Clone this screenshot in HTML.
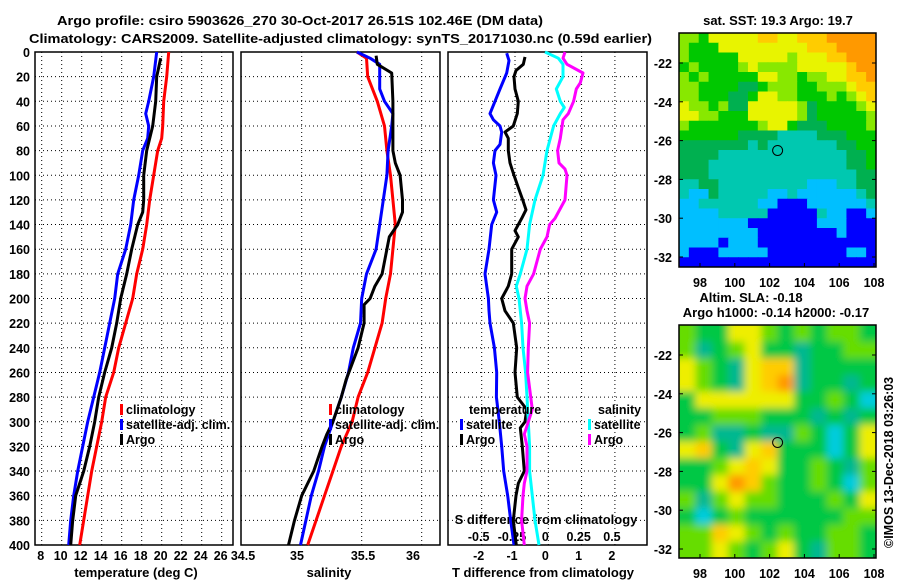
<!DOCTYPE html>
<html><head><meta charset="utf-8"><style>
html,body{margin:0;padding:0;background:#fff;}
svg{display:block;font-family:"Liberation Sans",Arial,sans-serif;}
.t{font-weight:bold;font-size:13px;fill:#000;}
.tk{font-weight:bold;font-size:12.5px;fill:#000;}
</style></head><body>
<svg id="c" width="900" height="580" viewBox="0 0 900 580" xmlns="http://www.w3.org/2000/svg">
<defs>
<clipPath id="clipTop"><rect x="679" y="33" width="197" height="234"/></clipPath>
<clipPath id="clipBot"><rect x="679" y="325" width="197" height="233"/></clipPath>
<filter id="blur" x="-10%" y="-10%" width="120%" height="120%"><feGaussianBlur stdDeviation="4"/></filter>
</defs>
<text class="t" x="57" y="25" textLength="486" lengthAdjust="spacingAndGlyphs">Argo profile: csiro 5903626_270 30-Oct-2017 26.51S 102.46E (DM data)</text>
<text class="t" x="29" y="43" textLength="623" lengthAdjust="spacingAndGlyphs">Climatology: CARS2009. Satellite-adjusted climatology: synTS_20171030.nc (0.59d earlier)</text>
<text class="t" x="778" y="25" text-anchor="middle">sat. SST: 19.3 Argo: 19.7</text>
<text class="t" x="751" y="302" text-anchor="middle">Altim. SLA: -0.18</text>
<text class="t" x="776" y="317" text-anchor="middle">Argo h1000: -0.14 h2000: -0.17</text>
<text class="tk" transform="translate(893,548) rotate(-90)">©IMOS 13-Dec-2018 03:26:03</text>
<g id="g"></g>
</svg>
<script>
// depth grid
const depthTicks=[0,20,40,60,80,100,120,140,160,180,200,220,240,260,280,300,320,340,360,380,400];
// temperature panel
const tTicks=[8,10,12,14,16,18,20,22,24,26];
const tClimD=[0,20,40,60,70,80,100,120,140,160,180,200,220,240,260,280,300,320,340,360,380,400];
const tClimV=[20.7,20.5,20.2,20.1,20.0,19.6,19.2,18.8,18.5,18.1,17.5,17.1,16.4,15.7,15.2,14.4,14.0,13.5,13.0,12.6,12.2,11.8];
const tSatD=[0,20,40,50,60,70,80,100,120,140,160,180,200,220,240,260,280,300,320,340,360,380,400];
const tSatV=[19.5,19.2,18.7,18.4,18.7,18.6,18.1,17.7,17.2,16.9,16.4,15.6,15.3,14.8,14.3,13.8,13.2,12.6,12.1,11.6,11.2,10.9,10.7];
const tArgD=[5,20,40,60,80,100,120,130,140,160,180,200,220,240,260,280,300,320,340,360,380,400];
const tArgV=[19.9,19.5,19.4,19.1,18.5,18.2,18.2,18.1,17.6,17.0,16.5,15.9,15.5,15.0,14.3,13.7,13.3,12.8,12.2,11.4,11.1,10.9];
// salinity panel
const sTicks=[34.5,35,35.5,36];
const sClimD=[0,5,20,40,60,80,100,120,140,160,180,200,220,240,260,280,300,320,340,360,380,400];
const sClimV=[35.46,35.54,35.55,35.63,35.69,35.71,35.74,35.76,35.78,35.76,35.74,35.70,35.67,35.61,35.55,35.47,35.42,35.33,35.26,35.19,35.12,35.05];
const sSatD=[0,5,10,30,40,50,60,80,100,120,140,160,180,200,220,240,260,280,300,320,340,360,400];
const sSatV=[35.46,35.57,35.65,35.65,35.69,35.76,35.75,35.72,35.71,35.68,35.65,35.62,35.54,35.50,35.49,35.43,35.39,35.33,35.26,35.19,35.14,35.08,34.99];
const sArgD=[3,10,17,40,80,90,100,120,130,140,150,160,180,190,200,205,220,240,266,280,300,310,320,340,350,360,380,400];
const sArgV=[35.62,35.63,35.75,35.76,35.76,35.78,35.82,35.84,35.84,35.80,35.73,35.71,35.67,35.61,35.57,35.52,35.52,35.47,35.37,35.33,35.26,35.21,35.17,35.10,35.05,35.00,34.94,34.89];
// difference panel
const dtTicks=[-2,-1,0,1,2];
const dsTicks=[-0.5,-0.25,0,0.25,0.5];
const dTSatD=[1,7,17,30,40,50,55,60,65,75,80,90,100,120,130,140,160,180,200,210,220,240,260,280,300,320,340,360,380,400];
const dTSatV=[-1.25,-1.18,-1.25,-1.45,-1.6,-1.75,-1.65,-1.45,-1.4,-1.45,-1.6,-1.65,-1.57,-1.65,-1.55,-1.7,-1.78,-1.9,-1.8,-1.78,-1.75,-1.62,-1.55,-1.56,-1.47,-1.4,-1.34,-1.22,-1.13,-1.03];
const dTArgD=[4,10,15,20,30,40,50,60,65,70,80,90,100,110,120,128,135,140,145,150,160,180,190,200,210,220,240,260,280,290,300,305,320,340,350,360,380,400];
const dTArgV=[-0.7,-0.75,-0.97,-1.03,-1.0,-0.9,-0.93,-1.05,-1.3,-1.2,-1.2,-1.15,-1.03,-0.9,-0.77,-0.67,-0.8,-0.9,-1.0,-0.9,-1.1,-1.1,-1.2,-1.4,-1.3,-1.05,-0.95,-1.0,-0.93,-0.65,-0.7,-0.84,-0.78,-0.72,-0.9,-0.97,-1.05,-0.96];
const dSSatD=[0,5,10,20,30,40,45,50,60,80,100,120,140,160,180,190,200,220,240,260,280,300,320,340,360,380,400];
const dSSatV=[-0.025,0.075,0.11,0.11,0.06,0.09,0.12,0.09,0.04,-0.01,-0.04,-0.1,-0.14,-0.16,-0.21,-0.24,-0.22,-0.2,-0.19,-0.17,-0.16,-0.15,-0.14,-0.14,-0.12,-0.1,-0.07];
const dSArgD=[0,5,10,17,25,30,40,50,55,70,80,90,95,100,120,135,140,150,160,180,190,200,210,220,240,260,290,300,310,320,340,350,360,380,400];
const dSArgV=[0.125,0.11,0.14,0.26,0.24,0.21,0.19,0.15,0.11,0.09,0.07,0.08,0.125,0.14,0.125,0.05,0.01,-0.01,-0.06,-0.11,-0.16,-0.175,-0.16,-0.14,-0.15,-0.155,-0.12,-0.15,-0.18,-0.16,-0.16,-0.18,-0.19,-0.2,-0.18];
// maps
const lonTicks=[98,100,102,104,106,108];
const latTicks=[-22,-24,-26,-28,-30,-32];
const argoLon=102.46, argoLat=-26.51;
const sstPalette=["#0000ff","#00bfff","#00c8b0","#00b050","#00c800","#88e800","#e8f400","#ffcc00","#ff9900"];
const sstGrid=[
"55466666776677788888","54446666666667778888","54444466666566677888","45444456555566666788",
"54544444665545566778","55444433455544555677","55444334665544454567","65545336666653444456",
"66554446666653444445","54444444566433344445","44444433332222333444","33333332322222223344",
"33332222222222222334","33322222222222222334","33322222222222222233","22332222222221112233",
"21132222211211111123","11222222110001111112","11112222200000211001","11111110000000111000",
"11111111000000001000","11110111000000000000","10001111100000000110","00000000000000000000"];
const slaPalette=["#00ccdd","#00b890","#00c844","#66dd00","#eeee00","#ffcc00","#ff9900"];
const slaGrid=["322443232332","312342212233","432145512222","432145612212","244444422320","223332221212",
"231121132024","452145222024","223454223213","224653223203","313433222324","202322222233","335432322332","334323421332"];

const NS="http://www.w3.org/2000/svg";
const G=document.getElementById('g');
function mk(tag,attrs,parent){const e=document.createElementNS(NS,tag);for(const k in attrs)e.setAttribute(k,attrs[k]);(parent||G).appendChild(e);return e;}
const Y0=52,Y1=545;
const yD=d=>Y0+d*(Y1-Y0)/400;
const panels=[
 {x0:35,x1:233,name:'temperature-panel',sc:v=>41.7+(v-8)*10},
 {x0:241,x1:440,name:'salinity-panel',sc:v=>241.7+(v-34.5)*120},
 {x0:448,x1:647,name:'difference-panel',sc:v=>548.3+v*33.3}
];
const scS=v=>548.3+v*133.3;
function txt(x,y,s,anchor,cls,name){const e=mk('text',{x:x,y:y,'text-anchor':anchor||'start','class':cls||'tk'});e.textContent=s;

return e;}
panels.forEach((p,i)=>{
 const g=mk('g',{});
 
 
 depthTicks.forEach(d=>{if(d>0&&d<400){const l=mk('line',{x1:p.x0,x2:p.x1,y1:yD(d),y2:yD(d),stroke:'#000','stroke-width':1,'stroke-dasharray':'1,3'},g);
  
  }});
 const vt=i==0?tTicks:(i==1?[35,35.5,36]:dtTicks);
 vt.forEach(v=>{const x=p.sc(v);if(x>p.x0+2&&x<p.x1-2){const l=mk('line',{x1:x,x2:x,y1:Y0,y2:Y1,stroke:'#000','stroke-width':1,'stroke-dasharray':'1,3'},g);
  
  }});
 const r=mk('rect',{x:p.x0,y:Y0,width:p.x1-p.x0,height:Y1-Y0,fill:'none',stroke:'#000','stroke-width':1.5},g);
 
 
});
depthTicks.forEach(d=>txt(30,yD(d)+5,String(d),'end','tk','depth-tick-label'));
tTicks.forEach(v=>txt(panels[0].sc(v)-1,560,String(v),'middle','tk','temperature-tick-label'));
const sLabX={34.5:243,35:297,35.5:363,36:413};
sTicks.forEach(v=>txt(sLabX[v],560,String(v),'middle','tk','salinity-tick-label'));
dtTicks.forEach(v=>txt(panels[2].sc(v)-3,560,String(v),'middle','tk','t-difference-tick-label'));
dsTicks.forEach(v=>txt(scS(v)-3,541,String(v),'middle','tk','s-difference-tick-label'));
txt(136,577,'temperature (deg C)','middle','t','temperature-axis-title');
txt(329,577,'salinity','middle','t','salinity-axis-title');
txt(543,577,'T difference from climatology','middle','t','t-difference-axis-title');
txt(546,524,'S difference from climatology','middle','t','s-difference-axis-title');
function series(D,V,sc,color,name){
 const pts=D.map((d,i)=>sc(V[i]).toFixed(1)+','+yD(d).toFixed(1)).join(' ');
 const e=mk('polyline',{points:pts,fill:'none',stroke:color,'stroke-width':3,'stroke-linejoin':'round'});
 
 
}
series(tClimD,tClimV,panels[0].sc,'#ff0000','temperature-climatology-line');
series(tSatD,tSatV,panels[0].sc,'#0000ff','temperature-satellite-line');
series(tArgD,tArgV,panels[0].sc,'#000','temperature-argo-line');
series(sClimD,sClimV,panels[1].sc,'#ff0000','salinity-climatology-line');
series(sSatD,sSatV,panels[1].sc,'#0000ff','salinity-satellite-line');
series(sArgD,sArgV,panels[1].sc,'#000','salinity-argo-line');
series(dTSatD,dTSatV,panels[2].sc,'#0000ff','t-diff-satellite-line');
series(dTArgD,dTArgV,panels[2].sc,'#000','t-diff-argo-line');
series(dSSatD,dSSatV,scS,'#00ffff','s-diff-satellite-line');
series(dSArgD,dSArgV,scS,'#ff00ff','s-diff-argo-line');
function leg(x,y,color,label,name){
 const m=mk('rect',{x:x,y:y-10,width:3,height:11,fill:color});
 
 
 txt(x+6,y,label,'start','tk',name+'-label');
}
[[120,'climatology','#ff0000'],[120,'satellite-adj. clim.','#0000ff'],[120,'Argo','#000']].forEach((a,i)=>leg(a[0],414+i*15,a[2],a[1],'temp-legend-entry'));
[[329,'climatology','#ff0000'],[329,'satellite-adj. clim.','#0000ff'],[329,'Argo','#000']].forEach((a,i)=>leg(a[0],414+i*15,a[2],a[1],'sal-legend-entry'));
txt(469,414,'temperature','start','tk','temperature-legend-title');
txt(598,414,'salinity','start','tk','salinity-legend-title');
leg(460,429,'#0000ff','satellite','tdiff-legend-satellite');
leg(460,444,'#000','Argo','tdiff-legend-argo');
leg(588,429,'#00ffff','satellite','sdiff-legend-satellite');
leg(588,444,'#ff00ff','Argo','sdiff-legend-argo');
const lonX=lon=>700+(lon-98)*17.4;
function drawMap(top,bottom,grid,pal,clip,blur,name){
 const g=mk('g',{'clip-path':'url(#'+clip+')'});
 
 
 const rows=grid.length, cols=grid[0].length, w=197/cols, h=(bottom-top)/rows;
 const bg=mk('rect',{x:679,y:top,width:197,height:bottom-top,fill:blur?'#00c844':'#00c800'},g);
 
 
 const cg=mk('g',blur?{filter:'url(#blur)'}:{},g);
 grid.forEach((row,r)=>{for(let c=0;c<cols;c++){
  const e=mk('rect',{x:(679+c*w-(blur?6:0)*(c==0)).toFixed(2),y:(top+r*h-(blur?6:0)*(r==0)).toFixed(2),width:(w+0.6+(blur?6:0)*((c==0)+(c==cols-1))).toFixed(2),height:(h+0.6+(blur?6:0)*((r==0)+(r==rows-1))).toFixed(2),fill:pal[+row[c]]},cg);
  
  }});
 const lat0=top+30;
 const cy=lat0+(-22-argoLat)*19.4;
 const ci=mk('circle',{cx:lonX(argoLon),cy:cy,r:5,fill:'none',stroke:'#000','stroke-width':1});
 
 
 const fr=mk('rect',{x:679,y:top,width:197,height:bottom-top,fill:'none',stroke:'#000','stroke-width':1.5});
 
 
 latTicks.forEach(l=>{const y=lat0+(-22-l)*19.4;
  const t1=mk('line',{x1:679,x2:683,y1:y,y2:y,stroke:'#000'});
  
  
  const t2=mk('line',{x1:872,x2:876,y1:y,y2:y,stroke:'#000'});
  
  
  txt(672,y+5,String(l),'end','tk','latitude-label');});
 lonTicks.forEach(l=>{const x=lonX(l);
  const t1=mk('line',{x1:x,x2:x,y1:bottom,y2:bottom-4,stroke:'#000'});
  
  
  txt(x,bottom+20,String(l),'middle','tk','longitude-label');});
}
drawMap(33,267,sstGrid,sstPalette,'clipTop',false,'sst-map');
drawMap(325,558,slaGrid,slaPalette,'clipBot',true,'sla-map');
</script>
</body></html>
